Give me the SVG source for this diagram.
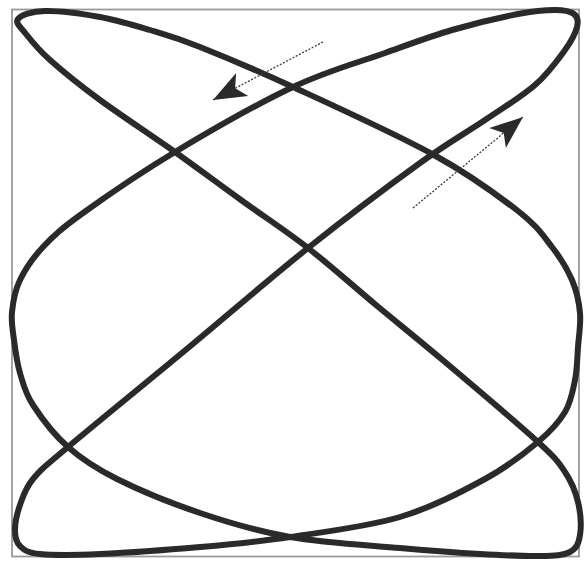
<svg xmlns="http://www.w3.org/2000/svg" width="585" height="562" viewBox="0 0 585 562">
<style>
.frame{fill:none;stroke:#9a9a9a;stroke-width:1.8}
.curve{fill:none;stroke:#2a2a2a;stroke-width:6;stroke-linejoin:round;stroke-linecap:round}
.dir{fill:none;stroke:#3a3a3a;stroke-width:1.3;stroke-dasharray:2 1.6;marker-end:url(#ah)}
</style>
<defs>
<marker id="ah" markerUnits="userSpaceOnUse" viewBox="-36 -15 38 30" markerWidth="38" markerHeight="30" refX="0" refY="0" orient="auto">
<path d="M0,0 L-33,-13 L-25,0 L-33,13 Z" fill="#2a2a2a"/>
</marker>
</defs>
<rect width="585" height="562" fill="#ffffff"/>
<g id="frame"><rect class="frame" x="12" y="9.5" width="567" height="547"/></g>
<g id="curve">
<path class="curve" d="M18,19
C21.2,15.2 31.3,11.3 45,11
C58.7,10.7 82.5,13.8 100,17
C117.5,20.2 133.3,25 150,30
C166.7,35 176.2,37.5 200,47
C223.8,56.5 254,69 293,87
C332,105 396.5,134.3 434,155
C471.5,175.7 498.3,195.7 518,211
C537.7,226.3 543,235.5 552,247
C561,258.5 567.3,269 572,280
C576.7,291 579,301.8 580,313
C581,324.2 578.8,335.8 578,347
C577.2,358.2 577.2,369.2 575,380
C572.8,390.8 571.2,401.7 565,412
C558.8,422.3 551.3,430.8 538,442
C524.7,453.2 508,466.5 485,479
C462,491.5 432.5,507.3 400,517
C367.5,526.7 323.3,532 290,537
C256.7,542 231.7,544.2 200,547
C168.3,549.8 126.7,552.8 100,554
C73.3,555.2 53.3,555.3 40,554
C26.7,552.7 24.2,550 20,546
C15.8,542 15,536.8 15,530
C15,523.2 17,513.5 20,505
C23,496.5 25,488.7 33,479
C41,469.3 42.2,468.8 68,447
C93.8,425.2 148,381.2 188,348
C228,314.8 269.3,278.8 308,248
C346.7,217.2 390.5,184.3 420,163
C449.5,141.7 465.8,133 485,120
C504.2,107 521.7,96.7 535,85
C548.3,73.3 558,59.7 565,50
C572,40.3 575.5,33 577,27
C578.5,21 577.7,16.8 574,14
C570.3,11.2 564.3,10 555,10
C545.7,10 535.2,10.7 518,14
C500.8,17.3 474.2,23.5 452,30
C429.8,36.5 411.5,43.5 385,53
C358.5,62.5 328,70.5 293,87
C258,103.5 210,131 175,152
C140,173 105,197.2 83,213
C61,228.8 53.5,235.8 43,247
C32.5,258.2 25.2,269.2 20,280
C14.8,290.8 13,302 12,312
C11,322 12.7,329.8 14,340
C15.3,350.2 16.8,362.2 20,373
C23.2,383.8 25,392.7 33,405
C41,417.3 54,434.7 68,447
C82,459.3 95,468 117,479
C139,490 171.2,503.3 200,513
C228.8,522.7 256.7,531.2 290,537
C323.3,542.8 368.3,545.2 400,548
C431.7,550.8 456.7,552.7 480,554
C503.3,555.3 525,556.3 540,556
C555,555.7 563.3,555.5 570,552
C576.7,548.5 578.7,543.3 580,535
C581.3,526.7 580.5,512.5 578,502
C575.5,491.5 571.7,482 565,472
C558.3,462 558,460.3 538,442
C518,423.7 472,384.8 445,362
C418,339.2 398.8,324 376,305
C353.2,286 330.5,265.5 308,248
C285.5,230.5 263.2,216 241,200
C218.8,184 198.5,168.7 175,152
C151.5,135.3 120.8,115.3 100,100
C79.2,84.7 62.3,71 50,60
C37.7,49 31.3,40.8 26,34
C20.7,27.2 14.8,22.8 18,19 Z"/>
</g>
<g id="connectors">
<line id="arrow-top" class="dir" x1="323" y1="42" x2="213" y2="100"/>
<line id="arrow-right" class="dir" x1="413" y1="208" x2="523" y2="117"/>
</g>
</svg>
